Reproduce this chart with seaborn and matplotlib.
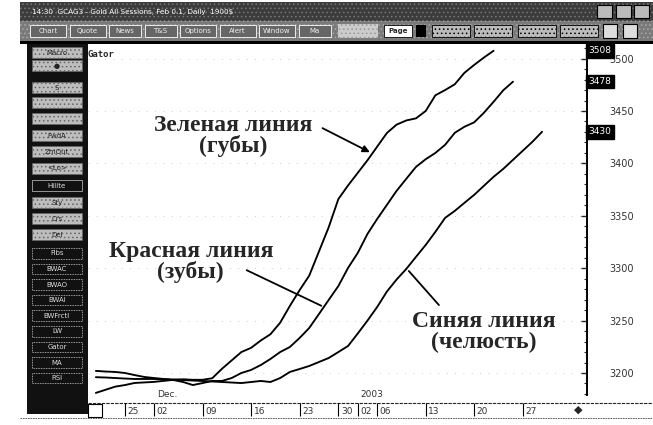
"""Alligator (Gator) chart, gold daily, Nov 2002 - Jan 2003, with Russian notes."""

import matplotlib
matplotlib.use("Agg")
import matplotlib.pyplot as plt
import matplotlib.transforms as mtransforms
import pandas as pd
import seaborn as sns
from matplotlib.patches import Rectangle

W, H = 653, 425

# --- data -----------------------------------------------------------------
lips = [3181, 3184, 3187, 3188.5, 3190.5, 3191, 3191.5, 3192.5, 3193.5, 3194,
        3193.5, 3193.5, 3195, 3204, 3212, 3220, 3224, 3231, 3237, 3248,
        3264, 3279, 3293, 3316, 3339, 3366, 3379, 3391, 3403, 3416,
        3429, 3437, 3441, 3443, 3450, 3465, 3470, 3475.5, 3486.5, 3494,
        3501, 3507.5]
teeth = [3196, 3195.7, 3195.2, 3194.7, 3194.3, 3194.3, 3194.3, 3193.8, 3193.3, 3191.4,
         3188.5, 3190.4, 3192.4, 3192.4, 3195.2, 3200, 3202.9, 3207.6, 3213.4, 3220,
         3224.8, 3233.4, 3243, 3256.3, 3269.7, 3283, 3300.3, 3314.6, 3332.7, 3347,
         3360.4, 3373.8, 3385.3, 3396.7, 3404, 3410, 3417.7, 3429.2, 3435, 3439.2,
         3448.3, 3458.8, 3469.8, 3478]
jaw = [3202, 3201.4, 3201, 3200, 3198, 3196.2, 3195.2, 3194.3, 3193.8, 3193.3,
       3192.8, 3192.4, 3191.9, 3191.4, 3190.9, 3190.4, 3191.4, 3192.4, 3191.4, 3195.2,
       3201, 3203.8, 3206.7, 3210.5, 3214.3, 3220, 3225.8, 3237.7, 3250, 3263,
       3277.7, 3289.2, 3299.3, 3310.8, 3322.2, 3334.7, 3348, 3354.7, 3362.4, 3370,
       3378.6, 3387.2, 3394.8, 3403.4, 3412, 3420.6, 3430.2]

tick_pos = [3, 6, 11, 16, 21, 25, 27, 29, 34, 39, 44]
tick_lab = ["25", "02", "09", "16", "23", "30", "02", "06", "13", "20", "27"]
period_pos = [6, 27]
period_lab = ["Dec.", "2003"]
price_ticks = [3200, 3250, 3300, 3350, 3400, 3450, 3500]

left_buttons = ["Macro", "\u25cf", "S", "", "", "FwdA", "ZmOut", "<Lo>", "Hilite",
                "Sty", "Crs", "Del"]
study_buttons = ["Fibs", "BWAC", "BWAO", "BWAI", "BWFrctl", "LW", "Gator", "MA", "RSI"]
tool_buttons = ["Chart", "Quote", "News", "T&S", "Options", "Alert", "Window", "Ma"]

rows = []
for name, vals in [("jaw", jaw), ("teeth", teeth), ("lips", lips)]:
    for i, v in enumerate(vals):
        rows.append({"bar": i, "price": v, "line": name})
df = pd.DataFrame(rows)

sns.set_theme(style="white")
plt.rcParams["font.family"] = ["DejaVu Sans"]
plt.rcParams["hatch.linewidth"] = 0.6

fig = plt.figure(figsize=(W / 100, H / 100), dpi=100, facecolor="white")


def px_axes(x0, y0, x1, y1, **kw):
    return fig.add_axes([x0 / W, 1 - y1 / H, (x1 - x0) / W, (y1 - y0) / H], **kw)


# --- window chrome ---------------------------------------------------------
bg = px_axes(0, 0, W, H, zorder=-5)
bg.set_xlim(0, W)
bg.set_ylim(H, 0)
bg.axis("off")

bg.add_patch(Rectangle((20, 2), 633, 19, fc="#3c3c3c", ec="#777", hatch="....", lw=0))
bg.text(32, 12, "14:30  GCAG3 - Gold All Sessions, Feb 0.1, Daily  1900$",
        color="white", fontsize=5.2, va="center")
for x in [597, 616, 634]:
    bg.add_patch(Rectangle((x, 5), 15, 13, fc="#bbb", ec="black", lw=0.8))
bg.add_patch(Rectangle((20, 21), 633, 20, fc="#7a7a7a", ec="#aaa", hatch="....", lw=0))
bx = 30
for lab in tool_buttons:
    w = 36 if len(lab) > 4 else 32
    bg.add_patch(Rectangle((bx, 25), w, 12, fc="#666", ec="white", lw=0.6))
    bg.text(bx + w / 2, 31, lab, color="#eee", fontsize=5, ha="center", va="center")
    bx += w + 3.5
bg.add_patch(Rectangle((338, 24), 40, 14, fc="#ccc", ec="#999", hatch="....", lw=0))
bg.add_patch(Rectangle((384, 25), 28, 12, fc="white", ec="black", lw=0.6))
bg.text(398, 31, "Page", fontsize=5, fontweight="bold", ha="center", va="center")
bg.add_patch(Rectangle((416, 25), 10, 12, fc="black", lw=0))
for x in [432, 474, 518, 560]:
    bg.add_patch(Rectangle((x, 25), 38, 12, fc="#bbb", ec="black", lw=0.6, hatch="...."))
bg.add_patch(Rectangle((603, 24), 14, 14, fc="#ddd", ec="black", lw=0.8))
bg.add_patch(Rectangle((623, 24), 14, 14, fc="#ddd", ec="black", lw=0.8))
bg.add_patch(Rectangle((20, 41), 633, 3, fc="black", lw=0))

# left tool panel
bg.add_patch(Rectangle((27, 44), 61, 370, fc="#111", lw=0))
button_tops = [47, 60, 82, 97, 113, 130, 146, 163, 180, 197, 213, 229]
for lab, by in zip(left_buttons, button_tops):
    dark = lab == "Hilite"
    bg.add_patch(Rectangle((32, by), 50, 11, fc="#111" if dark else "#bdbdbd",
                           ec="#ccc" if dark else "#666",
                           hatch=None if dark else "....", lw=0.5))
    if lab:
        bg.text(57, by + 5.5, lab, fontsize=5, ha="center", va="center",
                color="#ddd" if dark else "#222")
by = 248
for lab in study_buttons:
    bg.add_patch(Rectangle((32, by), 50, 10.5, fc="#111", ec="#ccc", lw=0.6, ls=(0, (1, 1))))
    bg.text(57, by + 5.3, lab, fontsize=5, ha="center", va="center", color="#ddd")
    by += 15.6

# x strip frame
bg.plot([88, W], [403, 403], color="#222", lw=0.8, ls=(0, (3, 1)))
bg.plot([20, W], [418, 418], color="#444", lw=0.6, ls=(0, (2, 1)))
bg.add_patch(Rectangle((88, 404), 14, 13, fc="white", ec="black", lw=0.8))
bg.text(578, 410, "\u25c6", fontsize=8, ha="center", va="center")

# --- main price panel ------------------------------------------------------
ax = px_axes(88, 45, 587, 395)
sns.lineplot(data=df, x="bar", y="price", hue="line", units="line", estimator=None,
             palette={"jaw": "black", "teeth": "black", "lips": "black"},
             lw=1.35, legend=False, ax=ax)
ax.set_xlim(-0.81, 50.63)
ax.set_ylim(3179, 3513)
for s in ["left", "top", "bottom"]:
    ax.spines[s].set_visible(False)
ax.spines["right"].set_color("black")
ax.spines["right"].set_linewidth(1.4)
ax.yaxis.tick_right()
ax.set_yticks(price_ticks)
ax.set_yticks(range(3180, 3520, 10), minor=True)
ax.tick_params(axis="y", which="major", direction="in", length=4, width=1,
               labelsize=7, labelcolor="#333", pad=16)
ax.tick_params(axis="y", which="minor", direction="in", length=2, width=0.8)
ax.set_xticks([])
ax.set_xlabel("")
ax.set_ylabel("")
ax.grid(True, axis="y", color="#bbb", lw=0.6, ls=(0, (1, 9)))
ax.text(0.0, 0.985, "Gator", transform=ax.transAxes, fontsize=6.5, fontweight="bold",
        ha="left", va="top", family="DejaVu Sans Mono")

# last-value boxes on the price scale
box_tr = mtransforms.blended_transform_factory(ax.transAxes, ax.transData)
for vals in [lips, teeth, jaw]:
    ax.text(1.003, vals[-1], f"{vals[-1]:.0f}", transform=box_tr, fontsize=6.5,
            color="white", ha="left", va="center", clip_on=False,
            bbox=dict(boxstyle="square,pad=0.25", fc="black", ec="black"))

# annotations
serif = dict(family="Liberation Serif", fontweight="bold", fontsize=17,
             ha="center", va="center", linespacing=0.95)
ax.text(0.291, 0.74, "Зеленая линия\n(губы)", transform=ax.transAxes, **serif)
ax.annotate("", xy=(28.5, (lips[28] + lips[29]) / 2), xycoords="data",
            xytext=(0.465, 0.766), textcoords="axes fraction",
            arrowprops=dict(arrowstyle="-|>", color="black", lw=1.3, mutation_scale=10))
ax.text(0.206, 0.38, "Красная линия\n(зубы)", transform=ax.transAxes, **serif)
ax.annotate("", xy=(23.5, (teeth[23] + teeth[24]) / 2), xycoords="data",
            xytext=(0.313, 0.36), textcoords="axes fraction",
            arrowprops=dict(arrowstyle="-", color="black", lw=1.3))
ax.text(0.794, 0.18, "Синяя линия\n(челюсть)", transform=ax.transAxes, **serif)
ax.annotate("", xy=(32.07, jaw[32]), xycoords="data",
            xytext=(0.707, 0.251), textcoords="axes fraction",
            arrowprops=dict(arrowstyle="-", color="black", lw=1.3))

# --- date strip ------------------------------------------------------------
sx = px_axes(88, 403, 587, 418)
sx.set_xlim(ax.get_xlim())
sx.set_ylim(0, 1)
sx.axis("off")
sx.vlines(tick_pos, 0.15, 1.0, color="black", lw=0.8)
for p, lab in zip(tick_pos, tick_lab):
    sx.text(p + 0.25, 0.45, lab, fontsize=6.5, color="#333", ha="left", va="center")
for p, lab in zip(period_pos, period_lab):
    sx.text(p + 0.3, 1.25, lab, fontsize=6.5, color="#333", ha="left", va="bottom",
            clip_on=False)

fig.savefig("out.png", dpi=100)
